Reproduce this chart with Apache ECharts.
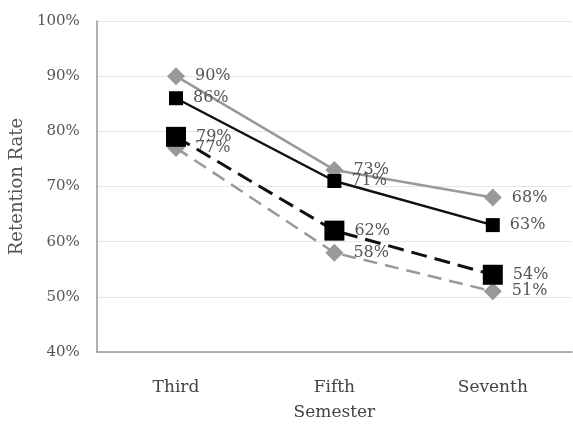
<!DOCTYPE html>
<html><head><meta charset="utf-8">
<script src="https://cdn.jsdelivr.net/npm/echarts@6/dist/echarts.min.js"></script>
<style>html,body{margin:0;padding:0;background:#fff}#c{width:573px;height:426px}</style>
</head><body><div id="c"></div>
<script>
var categories = ['Third', 'Fifth', 'Seventh'];
var seriesA = [90, 73, 68];   // gray solid, diamond
var seriesB = [86, 71, 63];   // black solid, square
var seriesC = [79, 62, 54];   // black dashed, large square
var seriesD = [77, 58, 51];   // gray dashed, diamond
var yTicks = [40, 50, 60, 70, 80, 90, 100];

var font = 'DejaVu Serif';
function lbl(){
  return {show:true, position:'right', distance:10, formatter:function(p){return p.value+'%';},
    color:'#555', fontFamily:font, fontSize:16};
}
var chart = echarts.init(document.getElementById('c'));
chart.setOption({
  animation:false,
  grid:{left:96, right:1, top:21, bottom:74},
  xAxis:{type:'category', data:categories, boundaryGap:true,
    axisLine:{lineStyle:{color:'#999', width:1.5}}, axisTick:{show:false},
    axisLabel:{color:'#444', fontFamily:font, fontSize:17, margin:27},
    name:'Semester', nameLocation:'middle', nameGap:52,
    nameTextStyle:{color:'#444', fontFamily:font, fontSize:17}},
  yAxis:{type:'value', min:yTicks[0], max:yTicks[yTicks.length-1], interval:10,
    axisLine:{show:true, lineStyle:{color:'#999', width:1.5}}, axisTick:{show:false},
    splitLine:{lineStyle:{color:'#e6e6e6'}},
    axisLabel:{color:'#555', fontFamily:font, fontSize:15, margin:17, formatter:'{value}%'},
    name:'Retention Rate', nameLocation:'middle', nameGap:70, nameRotate:90,
    nameTextStyle:{color:'#555', fontFamily:font, fontSize:18}},
  series:[
    {type:'line', data:seriesA, symbol:'diamond', symbolSize:18,
      itemStyle:{color:'#999'}, lineStyle:{color:'#999', width:2.5}, label:lbl(), z:2},
    {type:'line', data:seriesB, symbol:'rect', symbolSize:14,
      itemStyle:{color:'#000'}, lineStyle:{color:'#111', width:2.5}, label:lbl(), z:3},
    {type:'line', data:seriesD, symbol:'diamond', symbolSize:18,
      itemStyle:{color:'#999'}, lineStyle:{color:'#999', width:2.5, type:[14,8]}, label:lbl(), z:2},
    {type:'line', data:seriesC, symbol:'rect', symbolSize:20,
      itemStyle:{color:'#000'}, lineStyle:{color:'#111', width:3, type:[16,8]}, label:lbl(), z:4}
  ]
});
</script></body></html>
